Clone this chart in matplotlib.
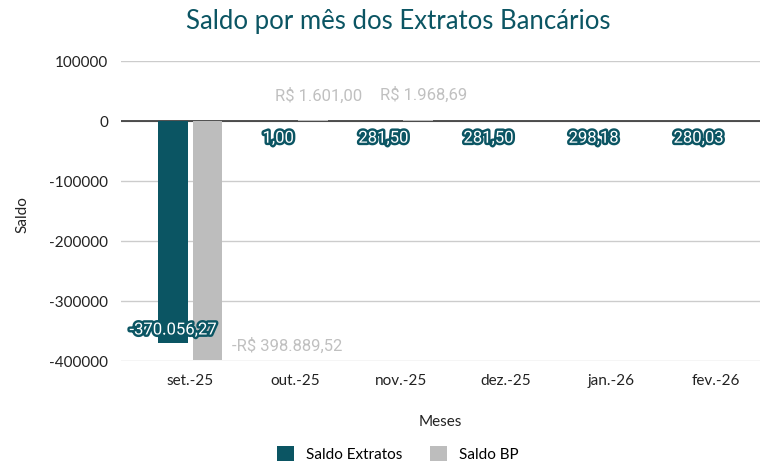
import numpy as np
import matplotlib
matplotlib.use("Agg")
import matplotlib.pyplot as plt
import matplotlib.patheffects as pe
from matplotlib.patches import Patch

months = ["set.-25", "out.-25", "nov.-25", "dez.-25", "jan.-26", "fev.-26"]
saldo_extratos = [-370056.27, 1.00, 281.50, 281.50, 298.18, 280.03]
saldo_bp = [-398889.52, 1601.00, 1968.69, np.nan, np.nan, np.nan]
extratos_labels = ["-370.056,27", "1,00", "281,50", "281,50", "298,18", "280,03"]
bp_labels = ["-R$ 398.889,52", "R$ 1.601,00", "R$ 1.968,69", "", "", ""]
yticks = [100000, 0, -100000, -200000, -300000, -400000]

TEAL = "#0b5563"
GRAY = "#bdbdbd"

plt.rcParams["font.family"] = ["Lato", "DejaVu Sans"]

fig = plt.figure(figsize=(7.6, 4.65), dpi=100)
ax = fig.add_axes([121/760, 1-361/465, (760-121)/760, 300/465])

x = np.arange(len(months))
w = 0.28
off = 0.165
ax.bar(x - off, saldo_extratos, width=w, color=TEAL, zorder=3)
ax.bar(x + off, saldo_bp, width=w, color=GRAY, zorder=3)

ax.set_ylim(-400000, 100000)
ax.set_xlim(-0.66, 5.42)
ax.set_yticks(yticks)
ax.set_yticklabels([str(v) for v in yticks])
ax.set_xticks(x)
ax.set_xticklabels(months)
ax.tick_params(axis="both", length=0, labelsize=11, colors="#222222")
ax.tick_params(axis="y", pad=9)
ax.tick_params(axis="x", pad=9)
ax.grid(axis="y", color="#cccccc", linewidth=1, zorder=0)
ax.axhline(0, color="#333333", linewidth=1.2, zorder=2)
for s in ax.spines.values():
    s.set_visible(False)

stroke = [pe.withStroke(linewidth=3.5, foreground=TEAL)]
for xi, v, lab in zip(x, saldo_extratos, extratos_labels):
    if v < -50000:
        ax.annotate(lab, (xi - off, v), xytext=(0, 4), textcoords="offset points",
                    ha="center", va="bottom", fontsize=12, color="white",
                    family=["Roboto", "DejaVu Sans"], path_effects=stroke, zorder=5)
    else:
        ax.annotate(lab, (xi - off, 0), xytext=(0, -7), textcoords="offset points",
                    ha="center", va="top", fontsize=12, color="white",
                    family=["Roboto", "DejaVu Sans"], path_effects=stroke, zorder=5)

for xi, v, lab in zip(x, saldo_bp, bp_labels):
    if not lab or np.isnan(v):
        continue
    if v < 0:
        ax.annotate(lab, (xi + off + w/2, v), xytext=(7, 5), textcoords="offset points",
                    ha="left", va="bottom", fontsize=12, color="#c0c0c0",
                    family=["Roboto", "DejaVu Sans"], zorder=5)
    else:
        ax.annotate(lab, (xi + off, v), xytext=(4, 12), textcoords="offset points",
                    ha="center", va="bottom", fontsize=12, color="#c0c0c0",
                    family=["Roboto", "DejaVu Sans"], zorder=5)

fig.text(398/760, 1-21/465, "Saldo por mês dos Extratos Bancários", ha="center", va="center",
         fontsize=18.5, color=TEAL)
fig.text(22/760, 1-215/465, "Saldo", rotation=90, ha="center", va="center", fontsize=11, color="#222222")
fig.text(440/760, 1-422/465, "Meses", ha="center", va="center", fontsize=11, color="#222222")

handles = [Patch(facecolor=TEAL, label="Saldo Extratos"), Patch(facecolor=GRAY, label="Saldo BP")]
fig.legend(handles=handles, loc="center", bbox_to_anchor=(398/760, 1-454/465), ncol=2,
           frameon=False, fontsize=11, handlelength=1.1, handleheight=1.1, columnspacing=1.8,
           handletextpad=0.8)

fig.savefig("out.png", dpi=100)
